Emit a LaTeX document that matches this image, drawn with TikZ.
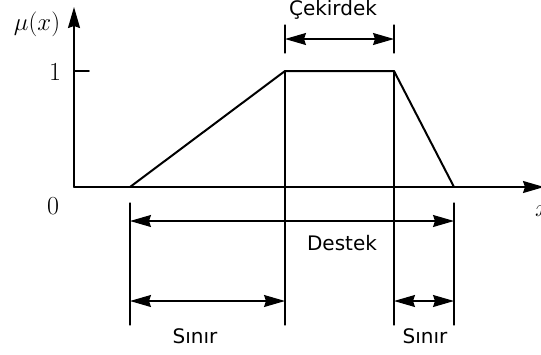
\documentclass[tikz,border=0pt]{standalone}
\usepackage{fontspec}
\newfontfamily\wordfont{DejaVu Sans}
\usetikzlibrary{arrows.meta}

\def\topy{71}
\def\axisy{187}
\def\dimlow{325}

\begin{document}
\begin{tikzpicture}[x=1pt, y=-1pt,
                    >={Stealth[length=21pt,width=12pt,inset=2pt]}, line cap=round,
                    dim/.style={line width=1.3pt,<->},
                    guide/.style={line width=1.2pt},
                    word/.style={font=\wordfont\fontsize{20}{20}\selectfont, inner sep=0pt},
                    num/.style={font=\fontsize{26}{26}\selectfont, inner sep=0pt}
                   ]
\useasboundingbox (0,0) rectangle (541,354);

\coordinate (O) at (74,\axisy);
\coordinate (ytop) at (74,7);
\coordinate (xend) at (544,\axisy);
\coordinate (A) at (130,\axisy);
\coordinate (B) at (285,\topy);
\coordinate (C) at (394,\topy);
\coordinate (D) at (454,\axisy);
\coordinate (one) at (74,\topy);
\coordinate (onetick) at (89,\topy);

% axes
\draw [line width=1.6pt,->] (O) -- (ytop);
\draw [line width=1.6pt,->] (O) -- (xend);
\draw [line width=1.6pt] (one) -- (onetick);
\node [num] (mu) at (37,24) {$\mu(x)$};
\node [num] (lone) at (55,72) {1};
\node [num] (lzero) at (53,206) {0};
\node [num, anchor=west] (lx) at (535,211) {$x$};

% membership function
\draw [line width=2pt, line join=round] (A) -- (B) -- (C) -- (D);

% guides
\draw [guide] (130,203) -- (130,\dimlow);
\draw [guide] (B) -- (285,\dimlow);
\draw [guide] (C) -- (394,\dimlow);
\draw [guide] (454,203) -- (454,\dimlow);
\draw [guide] (285,25) -- (285,53);
\draw [guide] (394,25) -- (394,53);

% dimensions
\draw [dim] (285,39) -- (394,39);
\node [word] (core) at (333,10) {Çekirdek};
\draw [dim] (130,221) -- (454,221);
\node [word] (support) at (342,243) {Destek};
\draw [dim] (130,301) -- (285,301);
\node [word] (bndleft) at (195,336) {Sınır};
\draw [dim] (394,301) -- (454,301);
\node [word] (bndright) at (425,336) {Sınır};
\end{tikzpicture}
\end{document}
